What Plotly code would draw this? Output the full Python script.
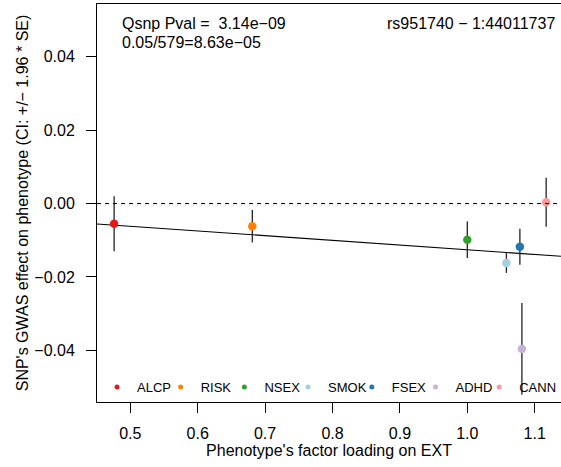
import plotly.graph_objects as go

# ---- data ----
phenotypes = ["ALCP", "RISK", "NSEX", "SMOK", "FSEX", "ADHD", "CANN"]
loadings = [0.476, 0.681, 1.000, 1.058, 1.078, 1.081, 1.117]
effects = [-0.00553, -0.00620, -0.00988, -0.01620, -0.01176, -0.03962, 0.00035]
se = [0.00383, 0.00227, 0.00254, 0.00138, 0.00250, 0.00638, 0.00342]
colors = ["#E31A1C", "#FF7F00", "#33A02C", "#A6CEE3", "#1F78B4", "#CAB2D6", "#FB9A99"]

fit_intercept = 0.0002
fit_slope = -0.0128

x_ticks = [0.5, 0.6, 0.7, 0.8, 0.9, 1.0, 1.1]
y_ticks = [-0.04, -0.02, 0.00, 0.02, 0.04]
x_range = [0.4506, 1.139]
y_range = [-0.0541, 0.0544]

qsnp_text = "Qsnp Pval =  3.14e\u221209"
bonf_text = "0.05/579=8.63e\u221205"
snp_text = "rs951740 \u2212 1:44011737"

FONT = "Liberation Sans, Arial, Helvetica, sans-serif"
FS = 16

fig = go.Figure()

# regression line across the x range
fig.add_trace(go.Scatter(
    x=x_range,
    y=[fit_intercept + fit_slope * v for v in x_range],
    mode="lines", line=dict(color="black", width=1.1),
    showlegend=False, hoverinfo="skip"))

n = len(phenotypes)
for i, (name, xv, yv, s, c) in enumerate(zip(phenotypes, loadings, effects, se, colors)):
    fig.add_trace(go.Scatter(
        x=[xv], y=[yv], mode="markers", name=name, legendgroup=name,
        marker=dict(color=c, size=8.5),
        error_y=dict(type="data", array=[1.96 * s], visible=True,
                     color="#222222", thickness=1.3, width=0),
        showlegend=False))
    # legend entry (small dot)
    fig.add_trace(go.Scatter(
        x=[None], y=[None], mode="markers", name=name, legendgroup=name,
        marker=dict(color=c, size=5), showlegend=True,
        legendwidth=(36 if i == n - 1 else None)))

fig.add_shape(type="line", xref="x domain", yref="y", x0=0, x1=1, y0=0, y1=0,
              line=dict(color="black", width=1, dash="4px,4px"))

H_TOP, H_BOT = 4, 401.7
W = 561
def py(p):
    return (H_BOT - p) / (H_BOT - H_TOP)
def px(p):
    return (p - 97) / (W - 97)

fig.add_annotation(text=qsnp_text, xref="paper", yref="paper", x=px(120),
                   y=py(23), xanchor="left", yanchor="middle", showarrow=False,
                   font=dict(size=FS, color="black", family=FONT))
fig.add_annotation(text=bonf_text, xref="paper", yref="paper", x=px(120),
                   y=py(42.5), xanchor="left", yanchor="middle", showarrow=False,
                   font=dict(size=FS, color="black", family=FONT))
fig.add_annotation(text=snp_text, xref="paper", yref="paper", x=px(557),
                   y=py(23), xanchor="right", yanchor="middle", showarrow=False,
                   font=dict(size=FS, color="black", family=FONT))

fig.update_layout(
    width=W, height=467,
    margin=dict(l=97, r=0, t=4, b=65.3),
    paper_bgcolor="white", plot_bgcolor="white",
    font=dict(family=FONT, size=FS, color="black"),
    showlegend=True,
    legend=dict(orientation="h", x=0, xanchor="left",
                y=py(386.7), yanchor="middle", entrywidth=18.7,
                entrywidthmode="pixels",
                bgcolor="rgba(0,0,0,0)", font=dict(size=13, family=FONT),
                itemclick=False, itemdoubleclick=False),
    xaxis=dict(range=x_range, tickvals=x_ticks, tickformat=".1f",
               showgrid=False, zeroline=False, showline=True, linecolor="black",
               linewidth=1, mirror=True, ticks="outside", ticklen=10,
               tickcolor="black", ticklabelstandoff=7,
               title=dict(text="Phenotype's factor loading on EXT",
                          font=dict(size=FS), standoff=3)),
    yaxis=dict(range=y_range, tickvals=y_ticks, tickformat=".2f",
               showgrid=False, zeroline=False, showline=True, linecolor="black",
               linewidth=1, mirror=False, ticks="outside", ticklen=10,
               tickcolor="black", ticklabelstandoff=8,
               title=dict(text="SNP's GWAS effect on phenotype (CI: +/\u2212 1.96 * SE)",
                          font=dict(size=FS), standoff=1)),
)

fig.write_html("out.html", config={"displayModeBar": False},
               post_script="document.body.style.margin='0';document.body.style.overflow='hidden';")
